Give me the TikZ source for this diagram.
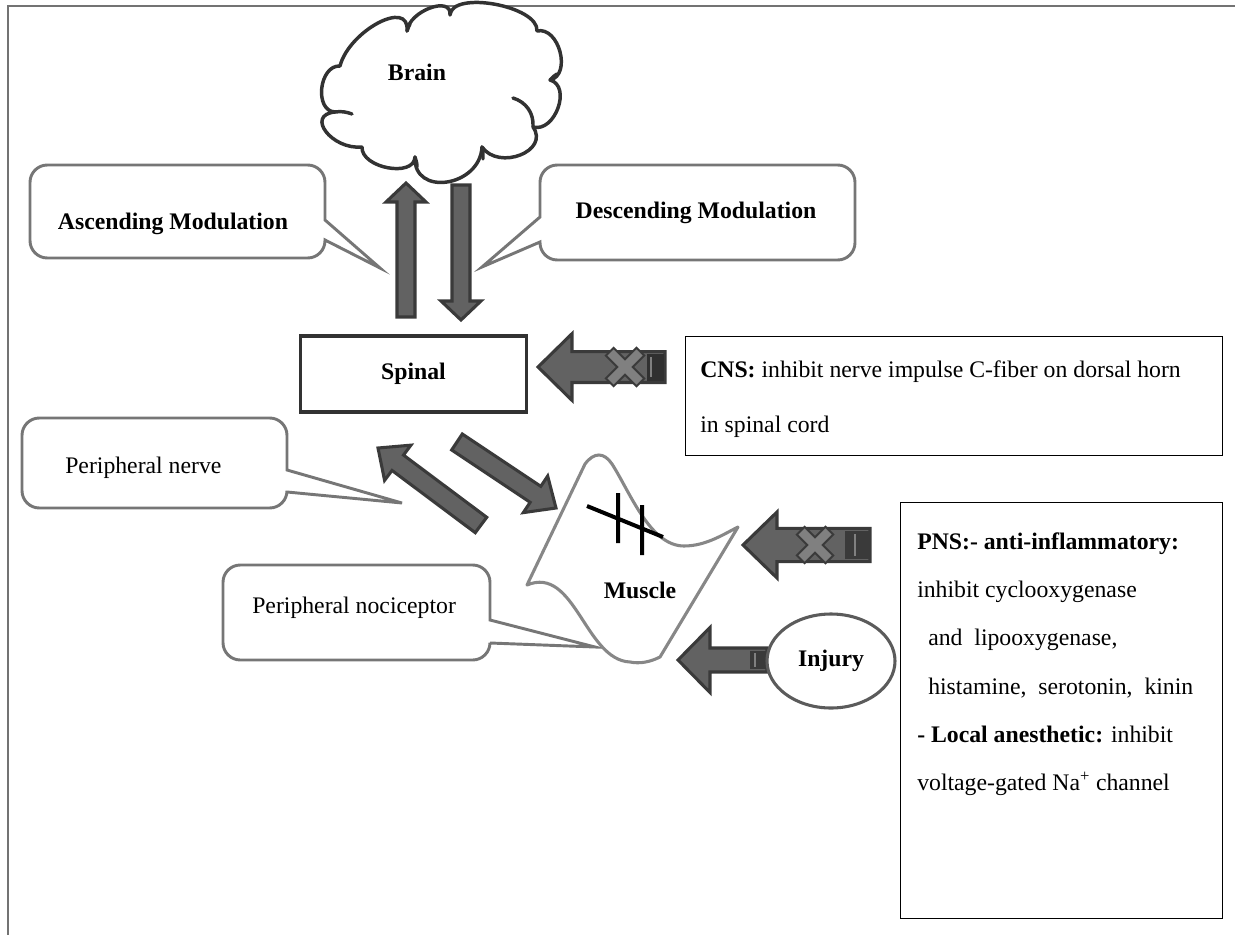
\documentclass[tikz,border=0pt]{standalone}
\usepackage{fontspec}
\setmainfont{Liberation Serif}
\usetikzlibrary{calc,shapes.symbols,shapes.geometric}
\definecolor{frameg}{RGB}{115,115,115}
\definecolor{darkln}{RGB}{50,50,50}
\definecolor{arrfill}{RGB}{98,98,98}
\definecolor{arrline}{RGB}{58,58,58}
\definecolor{arrdark}{RGB}{48,48,48}
\definecolor{callg}{RGB}{118,118,118}
\definecolor{xfill}{RGB}{128,128,128}
\definecolor{musg}{RGB}{135,135,135}
\newcommand{\blockarrow}[6][]{%
  \coordinate (ba-h) at ($(#3)!#6!(#2)$);
  \draw[blockarr,#1] ($(#2)!#4!90:(#3)$) -- ($(ba-h)!#4!90:(#3)$) -- ($(ba-h)!#5!90:(#3)$) -- (#3)
     -- ($(ba-h)!#5!-90:(#3)$) -- ($(ba-h)!#4!-90:(#3)$) -- ($(#2)!#4!-90:(#3)$) -- cycle;}
\newcommand{\crossmark}[2]{%
  \begin{scope}[shift={(#1)}]
    \draw[arrline, line width=9.75pt] (-#2,-#2) -- (#2,#2) (-#2,#2) -- (#2,-#2);
    \draw[xfill, line width=6.5pt] (-#2+1.5,-#2+1.5) -- (#2-1.5,#2-1.5) (-#2+1.5,#2-1.5) -- (#2-1.5,-#2+1.5);
  \end{scope}}
\begin{document}
\begin{tikzpicture}[x=0.75pt,y=-0.75pt,
  font=\fontsize{17.8}{21}\selectfont,
  blockarr/.style={fill=arrfill, draw=arrline, line width=2.3pt, line join=miter},
  callout/.style={draw=callg, fill=white, line width=2.2pt},
  cloudline/.style={draw=darkln, line width=2.6pt},
  lbl/.style={inner sep=0pt, anchor=base west},
  clbl/.style={inner sep=0pt, anchor=base, font=\fontsize{17.8}{21}\selectfont\bfseries},
  infobox/.style={draw=black, line width=0.8pt, anchor=north west, inner sep=0pt}]
\useasboundingbox (0,0) rectangle (1235,935);
% frame
\draw[frameg, line width=1.6pt] (8,935) -- (8,6) -- (1235,6);

% brain cloud
\draw[cloudline, fill=white, line join=round]
  (335,112) .. controls (314,111) and (319,65) .. (340,66)
  .. controls (349,31) and (410,-2) .. (407,31)
  .. controls (409,11) and (452,-5) .. (450,15)
  .. controls (452,-10) and (539,6) .. (537,31)
  .. controls (559,26) and (572,75) .. (550,80)
  .. controls (572,86) and (555,133) .. (533,127)
  .. controls (550,151) and (499,171) .. (482,147)
  .. controls (480,187) and (413,197) .. (415,157)
  .. controls (414,178) and (361,168) .. (362,147)
  .. controls (332,150) and (305,115) .. (335,112) -- cycle;
\draw[cloudline, line cap=round]
  (335,112) .. controls (341,111) and (347,112) .. (352,114)
  (533,127) .. controls (534,113) and (526,102) .. (513,98)
  (415,157) .. controls (416,160) and (417,163) .. (417,167)
  (482,147) .. controls (483,151) and (483,155) .. (483,159)
  (550,80) .. controls (553,77) and (555,75) .. (557,74)
  (407,31) .. controls (408,28) and (409,26) .. (410,24);
\node[clbl] (brainlbl) at (417,80) {Brain};

% callouts
\draw[callout, rounded corners=13pt] (30,210) -- (30,165) -- (325,165) [sharp corners] -- (325,220)
   -- (380,268) -- (325,240) [rounded corners=13pt] -- (325,258) -- (30,258) -- cycle;
\node[clbl] (asc) at (173,229) {Ascending Modulation};

\draw[callout, rounded corners=13pt] (700,165) -- (855,165) -- (855,260) -- (540,260) [sharp corners]
   -- (540,242) -- (482,267) -- (540,217) [rounded corners=13pt] -- (540,165) -- cycle;
\node[clbl] (desc) at (696,218) {Descending Modulation};

\draw[callout, rounded corners=13pt] (22,460) -- (22,418) -- (287,418) [sharp corners] -- (287,470)
   -- (402,503) -- (287,492) [rounded corners=13pt] -- (287,508) -- (22,508) -- cycle;
\node[lbl] (pnerve) at (65,473) {Peripheral nerve};

\draw[callout, rounded corners=13pt] (223,610) -- (223,565) -- (490,565) [sharp corners] -- (490,620)
   -- (595,647) -- (490,643) [rounded corners=13pt] -- (490,660) -- (223,660) -- cycle;
\node[lbl] (pnoci) at (252,613) {Peripheral nociceptor};

% vertical arrows
\coordinate (upA) at (406,317); \coordinate (upB) at (406,183);
\coordinate (dnA) at (461,185); \coordinate (dnB) at (461,320);
\blockarrow{upA}{upB}{6.75pt}{15pt}{14.25pt}
\blockarrow{dnA}{dnB}{6.75pt}{15pt}{14.25pt}

% spinal box
\node[draw=darkln, line width=2.4pt, minimum width=170pt, minimum height=57pt, inner sep=0pt,
      font=\fontsize{17.8}{21}\selectfont\bfseries] (spinal) at (413.5,374) {Spinal};

% diagonal arrows
\coordinate (d1A) at (457,442); \coordinate (d1B) at (556,508);
\coordinate (d2A) at (481,525); \coordinate (d2B) at (378,448);
\blockarrow{d1A}{d1B}{7.2pt}{16.5pt}{18.5pt}
\blockarrow{d2A}{d2B}{7.2pt}{16.5pt}{18.5pt}

% muscle
\draw[musg, fill=white, line width=2.3pt, line join=round]
  (585,464) .. controls (594,452) and (604,452) .. (612,464)
  .. controls (630,492) and (650,546) .. (684,546)
  .. controls (706,546) and (724,534) .. (738,527)
  -- (660,657)
  .. controls (650,662) and (640,664) .. (630,662)
  .. controls (585,660) and (575,565) .. (527,585) -- cycle;
\draw[black, line width=3pt] (618,493) -- (618,543) (642,505) -- (642,555) (587,506) -- (663,537);
\node[clbl] (muscle) at (640,598) {Muscle};

% CNS arrow
\coordinate (cnsA) at (665,367); \coordinate (cnsB) at (538,367);
\blockarrow{cnsA}{cnsB}{11.6pt}{25pt}{25.5pt}
\fill[arrdark] (647,353.5) rectangle (663.5,380.5);
\draw[xfill, line width=1.2pt] (651,357) -- (651,377);
\crossmark{625,367}{16}

% PNS arrow
\coordinate (pnsA) at (870,545); \coordinate (pnsB) at (743,545);
\blockarrow{pnsA}{pnsB}{12.5pt}{24.75pt}{25.5pt}
\fill[arrdark!80!arrfill] (845,531) rectangle (868.5,559);
\draw[xfill, line width=1.2pt] (855,534) -- (855,556);
\crossmark{815,545}{15}

% injury
\coordinate (injA) at (767,660); \coordinate (injB) at (678,660);
\blockarrow{injA}{injB}{9pt}{24.4pt}{24pt}
\fill[arrdark!80!arrfill] (750,651) rectangle (765.5,669);
\draw[xfill, line width=1.2pt] (755,653) -- (755,667);
\node[ellipse, draw=darkln!80!white, fill=white, line width=2.3pt, minimum width=96pt, minimum height=70.5pt, inner sep=0pt,
      font=\fontsize{17.8}{21}\selectfont\bfseries] (injury) at (831,661) {Injury};

% CNS box
\node[infobox, minimum width=402.75pt, minimum height=89.25pt] (cnsbox) at (685,336) {};
\node[lbl] (cns1) at (700,377) {\textbf{CNS:} inhibit nerve impulse C-fiber on dorsal horn};
\node[lbl] (cns2) at (700,432) {in spinal cord};

% PNS box
\node[infobox, minimum width=241.5pt, minimum height=312pt] (pnsbox) at (900,502) {};
\node[lbl] (p1) at (917,549) {\textbf{PNS:- anti-inflammatory:}};
\node[lbl] (p2) at (917,597) {inhibit cyclooxygenase};
\node[lbl] (p3) at (928,645) {and\ \ lipooxygenase,};
\node[lbl] (p4) at (928,694) {histamine,\ \ serotonin,\ \ kinin};
\node[lbl] (p5) at (917,742) {\textbf{- Local anesthetic:} inhibit};
\node[lbl] (p6) at (917,790) {voltage-gated Na\textsuperscript{+} channel};
\end{tikzpicture}
\end{document}
